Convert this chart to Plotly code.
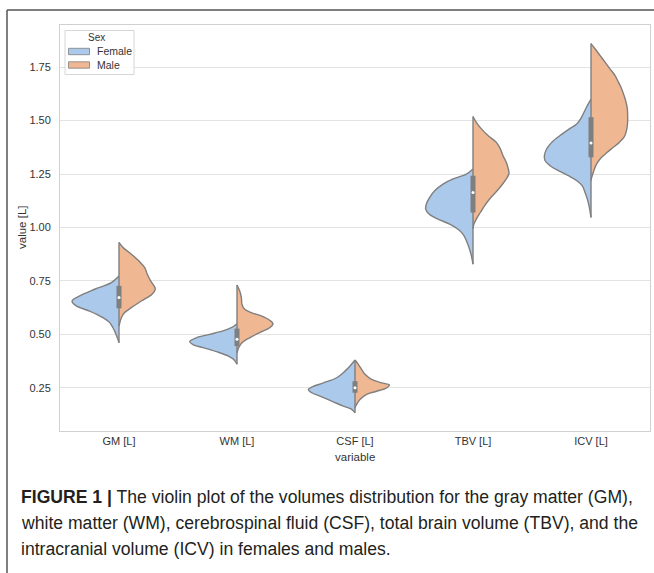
import plotly.graph_objects as go

# ---- data -------------------------------------------------------------
categories = ["GM [L]", "WM [L]", "CSF [L]", "TBV [L]", "ICV [L]"]
sexes = ["Female", "Male"]

# Density outlines of each half violin: levels (L) from top to bottom and
# the half width at each level (in category units).
female_levels = [
    [0.773, 0.742, 0.711, 0.680, 0.656, 0.633, 0.609, 0.578, 0.555, 0.531, 0.508, 0.484, 0.461],
    [0.550, 0.531, 0.516, 0.500, 0.484, 0.466, 0.450, 0.438, 0.419, 0.399, 0.378, 0.360],
    [0.380, 0.352, 0.328, 0.297, 0.273, 0.253, 0.242, 0.227, 0.211, 0.188, 0.164, 0.149, 0.133],
    [1.274, 1.250, 1.227, 1.203, 1.172, 1.141, 1.110, 1.086, 1.063, 1.039, 1.016, 0.992, 0.969,
     0.938, 0.906, 0.875, 0.828],
    [1.600, 1.570, 1.539, 1.508, 1.484, 1.461, 1.430, 1.398, 1.367, 1.336, 1.313, 1.289, 1.266,
     1.242, 1.219, 1.195, 1.164, 1.133, 1.094, 1.047],
]
female_widths = [
    [0, 0.065, 0.206, 0.333, 0.398, 0.362, 0.249, 0.136, 0.079, 0.051, 0.031, 0.014, 0],
    [0, 0.048, 0.119, 0.232, 0.345, 0.401, 0.364, 0.288, 0.175, 0.076, 0.020, 0],
    [0, 0.042, 0.085, 0.155, 0.268, 0.367, 0.395, 0.367, 0.297, 0.198, 0.099, 0.028, 0],
    [0, 0.056, 0.169, 0.254, 0.325, 0.367, 0.395, 0.401, 0.373, 0.297, 0.198, 0.127, 0.085,
     0.056, 0.034, 0.017, 0],
    [0, 0.031, 0.059, 0.088, 0.121, 0.184, 0.263, 0.333, 0.376, 0.395, 0.390, 0.347, 0.277,
     0.192, 0.121, 0.073, 0.051, 0.031, 0.014, 0],
]
male_levels = [
    [0.930, 0.906, 0.875, 0.844, 0.812, 0.781, 0.750, 0.727, 0.711, 0.688, 0.656, 0.625, 0.602,
     0.578, 0.539],
    [0.731, 0.703, 0.672, 0.641, 0.617, 0.602, 0.586, 0.566, 0.550, 0.531, 0.508, 0.484, 0.461,
     0.438, 0.414],
    [0.380, 0.360, 0.336, 0.313, 0.289, 0.273, 0.263, 0.250, 0.234, 0.219, 0.195, 0.172, 0.157],
    [1.519, 1.492, 1.461, 1.430, 1.398, 1.367, 1.336, 1.305, 1.274, 1.253, 1.227, 1.195, 1.164,
     1.133, 1.102, 1.070, 1.039, 1.016, 0.995],
    [1.860, 1.836, 1.805, 1.773, 1.742, 1.711, 1.680, 1.648, 1.617, 1.586, 1.555, 1.516, 1.477,
     1.445, 1.422, 1.398, 1.375, 1.352, 1.328, 1.305, 1.281, 1.258, 1.234, 1.219],
]
male_widths = [
    [0, 0.034, 0.105, 0.167, 0.218, 0.240, 0.268, 0.297, 0.308, 0.280, 0.189, 0.105, 0.048,
     0.020, 0],
    [0, 0.023, 0.037, 0.042, 0.065, 0.121, 0.206, 0.277, 0.305, 0.277, 0.192, 0.107, 0.042,
     0.014, 0],
    [0, 0.028, 0.056, 0.085, 0.141, 0.226, 0.291, 0.268, 0.184, 0.099, 0.042, 0.014, 0],
    [0, 0.028, 0.071, 0.127, 0.198, 0.232, 0.254, 0.282, 0.299, 0.305, 0.282, 0.240, 0.192,
     0.141, 0.099, 0.062, 0.028, 0.008, 0],
    [0, 0.034, 0.076, 0.119, 0.161, 0.203, 0.232, 0.260, 0.280, 0.297, 0.308, 0.311, 0.308,
     0.297, 0.280, 0.240, 0.189, 0.138, 0.090, 0.056, 0.034, 0.020, 0.006, 0],
]

# Quartiles and median of the pooled values per variable
q1 = [0.622, 0.445, 0.227, 1.070, 1.328]
medians = [0.672, 0.477, 0.250, 1.164, 1.395]
q3 = [0.727, 0.527, 0.281, 1.242, 1.516]

y_ticks = [0.25, 0.50, 0.75, 1.00, 1.25, 1.50, 1.75]

# ---- styling ----------------------------------------------------------
FEMALE = "#abc9ea"
MALE = "#efb792"
EDGE = "#7f7f7f"
FONT = "Liberation Sans"
W, H = 654, 573
ML, MR, MT, MB = 60, 4, 25, 142
PW, PH = W - ML - MR, H - MT - MB


def px(x):
    return (x - ML) / PW


def py(y):
    return (H - MB - y) / PH


fig = go.Figure()

for i, cat in enumerate(categories):
    # left (female) half
    fl, fw = female_levels[i], female_widths[i]
    fig.add_trace(go.Scatter(
        x=[i - w for w in fw], y=fl, mode="lines", fill="toself",
        fillcolor=FEMALE, line=dict(color=EDGE, width=1.4, shape="spline", smoothing=1.0),
        name="Female", showlegend=False, hoverinfo="skip"))
    # right (male) half
    ml, mw = male_levels[i], male_widths[i]
    fig.add_trace(go.Scatter(
        x=[i + w for w in mw], y=ml, mode="lines", fill="toself",
        fillcolor=MALE, line=dict(color=EDGE, width=1.4, shape="spline", smoothing=1.0),
        name="Male", showlegend=False, hoverinfo="skip"))
    # centre line spanning both halves
    lo = min(min(fl), min(ml))
    hi = max(max(fl), max(ml))
    fig.add_trace(go.Scatter(
        x=[i, i], y=[lo, hi], mode="lines", line=dict(color=EDGE, width=1.4),
        showlegend=False, hoverinfo="skip"))
    # inner box (interquartile range)
    fig.add_trace(go.Scatter(
        x=[i, i], y=[q1[i], q3[i]], mode="lines", line=dict(color=EDGE, width=5),
        showlegend=False, hoverinfo="skip"))
    # median marker
    fig.add_trace(go.Scatter(
        x=[i], y=[medians[i]], mode="markers",
        marker=dict(color="white", size=3, line=dict(width=0)),
        showlegend=False, hoverinfo="skip"))

shapes = []
annotations = []

# legend box
shapes.append(dict(type="rect", xref="paper", yref="paper",
                   x0=px(65), x1=px(134), y0=py(74.5), y1=py(30.5),
                   line=dict(color="#d6d6d6", width=1), fillcolor="rgba(255,255,255,0.85)",
                   layer="above"))
annotations.append(dict(text="Sex", xref="paper", yref="paper", x=px(96), y=py(37.5),
                        xanchor="center", yanchor="middle", showarrow=False,
                        font=dict(family=FONT, size=10, color="#333333")))
for k, (label, col) in enumerate(zip(sexes, [FEMALE, MALE])):
    yc = 51.5 + k * 13.5
    shapes.append(dict(type="rect", xref="paper", yref="paper",
                       x0=px(68.5), x1=px(89.5), y0=py(yc + 3.2), y1=py(yc - 3.2),
                       line=dict(color=EDGE, width=0.8), fillcolor=col, layer="above"))
    annotations.append(dict(text=label, xref="paper", yref="paper", x=px(95), y=py(yc),
                            xanchor="left", yanchor="middle", showarrow=False,
                            font=dict(family=FONT, size=10.5, color="#333333")))

# axis titles
annotations.append(dict(text="variable", xref="paper", yref="paper", x=0.5, y=py(457),
                        xanchor="center", yanchor="middle", showarrow=False,
                        font=dict(family=FONT, size=11.5, color="#333333")))
annotations.append(dict(text="value [L]", xref="paper", yref="paper", x=px(22), y=py(228),
                        xanchor="center", yanchor="middle", showarrow=False, textangle=-90,
                        font=dict(family=FONT, size=11.5, color="#333333")))

# caption
caption = [
    "<b>FIGURE 1 |</b> The violin plot of the volumes distribution for the gray matter (GM),",
    "white matter (WM), cerebrospinal fluid (CSF), total brain volume (TBV), and the",
    "intracranial volume (ICV) in females and males.",
]
for k, line in enumerate(caption):
    annotations.append(dict(text=line, xref="paper", yref="paper", x=px(19), y=py(497 + 26 * k),
                            xanchor="left", yanchor="middle", showarrow=False,
                            font=dict(family=FONT, size=17.6, color="#231f20")))

# page frame (left and top rules)
shapes.append(dict(type="line", xref="paper", yref="paper", x0=px(7), x1=px(7),
                   y0=py(10), y1=py(573), line=dict(color="#555555", width=1.5)))
shapes.append(dict(type="line", xref="paper", yref="paper", x0=px(7), x1=px(654),
                   y0=py(10), y1=py(10), line=dict(color="#555555", width=1.5)))

fig.update_layout(
    width=W, height=H,
    margin=dict(l=ML, r=MR, t=MT, b=MB),
    paper_bgcolor="white", plot_bgcolor="white",
    shapes=shapes, annotations=annotations,
    showlegend=False,
    xaxis=dict(range=[-0.5, 4.5], tickvals=list(range(len(categories))), ticktext=categories,
               showgrid=False, zeroline=False, showline=True, mirror=True,
               linecolor="#d0d0d0", linewidth=1, ticks="",
               tickfont=dict(family=FONT, size=11, color="#333333")),
    yaxis=dict(range=[0.048, 1.947], tickvals=y_ticks,
               ticktext=[f"{v:.2f}" for v in y_ticks],
               showgrid=True, gridcolor="#e3e3e3", gridwidth=1.2, zeroline=False,
               showline=True, mirror=True, linecolor="#d0d0d0", linewidth=1, ticks="",
               ticklabelstandoff=6,
               tickfont=dict(family=FONT, size=11, color="#333333")),
)

fig.write_html("out.html")
